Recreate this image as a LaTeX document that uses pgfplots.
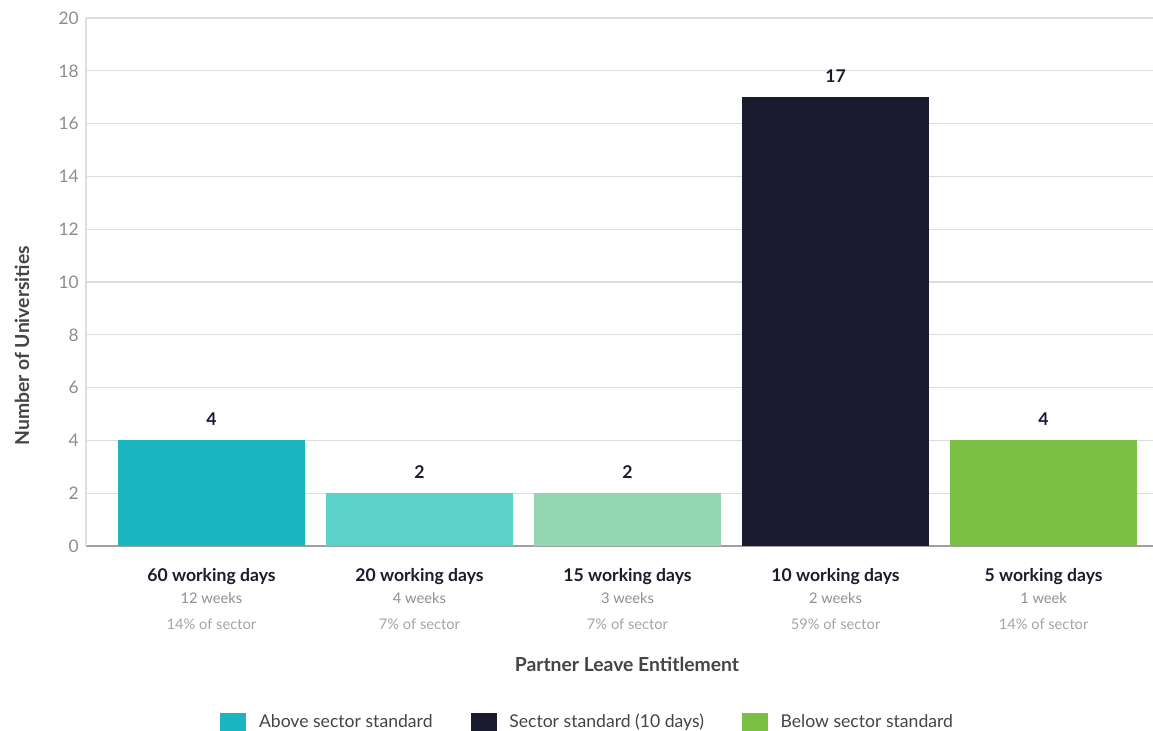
\documentclass[border=0pt]{standalone}
\usepackage{pgfplots}
\pgfplotsset{compat=1.18}
\usepackage{fontspec}
\setmainfont{Lato}
\definecolor{cA}{HTML}{1BB5C1}
\definecolor{cB}{HTML}{5CD1C9}
\definecolor{cC}{HTML}{92D6B1}
\definecolor{cD}{HTML}{1B1B2F}
\definecolor{cE}{HTML}{7CBF45}
\definecolor{navy}{HTML}{1B1B2F}
\definecolor{tickgray}{HTML}{8C8C8C}
\definecolor{subgray}{HTML}{8F8F8F}
\definecolor{subgrayb}{HTML}{A5A5A5}
\definecolor{gridgray}{HTML}{DDDDDD}
\definecolor{axisgray}{HTML}{A0A0A0}
\definecolor{labgray}{HTML}{444444}
\newcommand{\cat}[3]{{\fontsize{13.2}{16.5}\selectfont\bfseries\color{navy}#1}\\[0.5pt]{\color{subgray}#2}\\[2.5pt]{\color{subgrayb}#3}}
\begin{document}
\begin{tikzpicture}
\path[use as bounding box] (-64.5pt,-138.75pt) rectangle (800.25pt,409.5pt);
\begin{axis}[
  at={(0pt,0pt)}, anchor=south west,
  scale only axis, width=800.25pt, height=396pt,
  xmin=-0.603, xmax=4.526, ymin=0, ymax=20,
  ytick={0,2,...,20},
  xtick={0,1,2,3,4},
  xticklabels={
    {\cat{60 working days}{12 weeks}{14\% of sector}},
    {\cat{20 working days}{4 weeks}{7\% of sector}},
    {\cat{15 working days}{3 weeks}{7\% of sector}},
    {\cat{10 working days}{2 weeks}{59\% of sector}},
    {\cat{5 working days}{1 week}{14\% of sector}}},
  xticklabel style={align=center, font=\fontsize{11}{16.5}\selectfont, anchor=north, yshift=-13pt},
  yticklabel style={font=\fontsize{13}{15}\selectfont, color=tickgray, xshift=-2pt},
  /pgf/number format/assume math mode=true,
  major tick length=0pt,
  ymajorgrids, grid style={color=gridgray, line width=0.9pt},
  axis x line*=bottom, axis y line*=left,
  x axis line style={color=axisgray, line width=1.6pt, -},
  y axis line style={color=gridgray, line width=0.9pt, -},
  xlabel={Partner Leave Entitlement},
  xlabel style={at={(axis description cs:0.507,0)}, anchor=center, yshift=-88.5pt, font=\fontsize{14.5}{17}\selectfont\bfseries, color=labgray},
  ylabel={Number of Universities},
  ylabel style={at={(axis description cs:0,0.379)}, anchor=center, yshift=48pt, font=\fontsize{14.5}{17}\selectfont\bfseries, color=labgray},
  ybar, bar width=0.9, bar shift=0pt,
  nodes near coords,
  every node near coord/.append style={font=\fontsize{13.2}{15}\selectfont\bfseries, color=navy, yshift=7.5pt},
  legend style={at={(axis description cs:0.4705,0)}, anchor=center, yshift=-132pt, draw=none, fill=none,
    legend columns=3, font=\fontsize{13.2}{15}\selectfont, text=labgray,
    /tikz/every even column/.append style={column sep=26.5pt}},
  legend image code/.code={\fill[#1] (0pt,-7pt) rectangle (19.5pt,7pt); \path (27pt,0pt);},
  legend cell align=left,
]
\addplot[fill=cA, draw=none, forget plot] coordinates {(0,4)};
\addplot[fill=cB, draw=none, forget plot] coordinates {(1,2)};
\addplot[fill=cC, draw=none, forget plot] coordinates {(2,2)};
\addplot[fill=cD, draw=none, forget plot] coordinates {(3,17)};
\addplot[fill=cE, draw=none, forget plot] coordinates {(4,4)};
\addlegendimage{fill=cA, draw=none}
\addlegendentry{Above sector standard}
\addlegendimage{fill=cD, draw=none}
\addlegendentry{Sector standard (10 days)}
\addlegendimage{fill=cE, draw=none}
\addlegendentry{Below sector standard}
\end{axis}
\end{tikzpicture}
\end{document}
